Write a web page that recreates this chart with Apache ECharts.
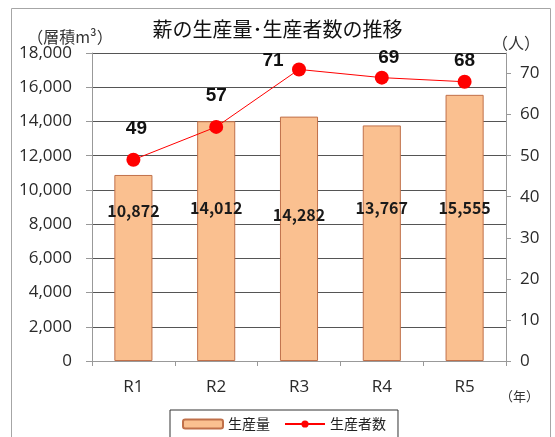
<!DOCTYPE html>
<html><head><meta charset="utf-8">
<script src="https://cdn.jsdelivr.net/npm/echarts@6/dist/echarts.min.js"></script>
<style>html,body{margin:0;padding:0;background:#fff}#c{width:555px;height:437px}</style>
</head><body><div id="c"></div>
<script>
const categories = ['R1', 'R2', 'R3', 'R4', 'R5'];
const volume = [10872, 14012, 14282, 13767, 15555];
const producers = [49, 57, 71, 69, 68];
const leftTicks = [0, 2000, 4000, 6000, 8000, 10000, 12000, 14000, 16000, 18000];
const rightTicks = [0, 10, 20, 30, 40, 50, 60, 70];

const barLabelDist = [141, 144, 137, 144, 144];
const lineLabelOffset = [[3, -10], [0, -10], [-26, 13], [7, 2], [0, 1]];

const chart = echarts.init(document.getElementById('c'), null, {renderer: 'canvas'});
const axisFont = {fontFamily: 'Open Sans', fontSize: 17, color: '#2a2a2a'};
chart.setOption({
  backgroundColor: '#fff',
  animation: false,
  graphic: [{type: 'rect', shape: {x: 11.5, y: 8.5, width: 539, height: 440}, style: {fill: 'none', stroke: '#a6a6a6', lineWidth: 1}, silent: true, z: -1}],
  title: {
    text: '薪の生産量･生産者数の推移', left: 'center', top: 14,
    textStyle: {fontFamily: 'Noto Sans CJK JP', fontSize: 20, fontWeight: 'normal', color: '#111'}
  },
  legend: {
    left: 170, top: 410, padding: [7, 12, 14, 12], itemGap: 14,
    borderColor: '#333', borderWidth: 1,
    itemWidth: 40, itemHeight: 9,
    textStyle: {fontFamily: 'Noto Sans CJK JP', fontSize: 14, color: '#222'},
    data: ['生産量', '生産者数']
  },
  grid: {left: 92, right: 49, top: 53, bottom: 76},
  xAxis: {
    type: 'category', data: categories,
    name: '（年）', nameLocation: 'end', nameGap: -6,
    nameTextStyle: {fontFamily: 'Noto Sans CJK JP', fontSize: 13, color: '#333', align: 'left', verticalAlign: 'top', padding: [29, 0, 0, 0]},
    axisLine: {lineStyle: {color: '#999'}},
    axisTick: {show: true, length: 5, lineStyle: {color: '#999'}},
    axisLabel: Object.assign({margin: 18}, axisFont)
  },
  yAxis: [{
    type: 'value', min: 0, max: 18000, interval: 2000, position: 'left',
    name: '（層積m³）', nameLocation: 'end', nameGap: 6,
    nameTextStyle: {fontFamily: 'Noto Sans CJK JP', fontSize: 16, color: '#333', align: 'center', padding: [0, 44, 0, 0]},
    axisLine: {show: true, lineStyle: {color: '#999'}},
    axisTick: {show: true, length: 6, lineStyle: {color: '#999'}, customValues: leftTicks},
    axisLabel: Object.assign({margin: 20, customValues: leftTicks, formatter: v => v.toLocaleString('en-US')}, axisFont),
    splitLine: {show: true, lineStyle: {color: '#555', width: 1}}
  }, {
    type: 'value', min: 0, max: 75, position: 'right',
    name: '（人）', nameLocation: 'end', nameGap: 2,
    nameTextStyle: {fontFamily: 'Noto Sans CJK JP', fontSize: 16, color: '#333', align: 'center', padding: [0, 0, 0, 20]},
    axisLine: {show: true, lineStyle: {color: '#999'}},
    axisTick: {show: true, length: 5, lineStyle: {color: '#999'}, customValues: rightTicks},
    axisLabel: Object.assign({margin: 14, customValues: rightTicks}, axisFont),
    splitLine: {show: false}
  }],
  series: [{
    name: '生産量', type: 'bar', yAxisIndex: 0, barWidth: '46%',
    itemStyle: {color: '#FAC090', borderColor: '#C0704A', borderWidth: 1},
    data: volume.map((v, i) => ({value: v, label: {distance: barLabelDist[i]}})),
    label: {
      show: true, position: 'insideBottom',
      formatter: p => p.value.toLocaleString('en-US'),
      fontFamily: 'Noto Sans CJK JP', fontWeight: 'bold', fontSize: 16, color: '#1a1a1a', lineHeight: 18
    }
  }, {
    name: '生産者数', type: 'line', yAxisIndex: 1,
    symbol: 'circle', symbolSize: 14,
    lineStyle: {color: '#FF0000', width: 1},
    itemStyle: {color: '#FF0000'},
    data: producers.map((v, i) => ({value: v, label: {offset: lineLabelOffset[i]}})),
    label: {
      show: true, position: 'top', distance: 5,
      fontFamily: 'Liberation Sans', fontWeight: 'bold', fontSize: 19, color: '#111'
    }
  }]
});
</script></body></html>
